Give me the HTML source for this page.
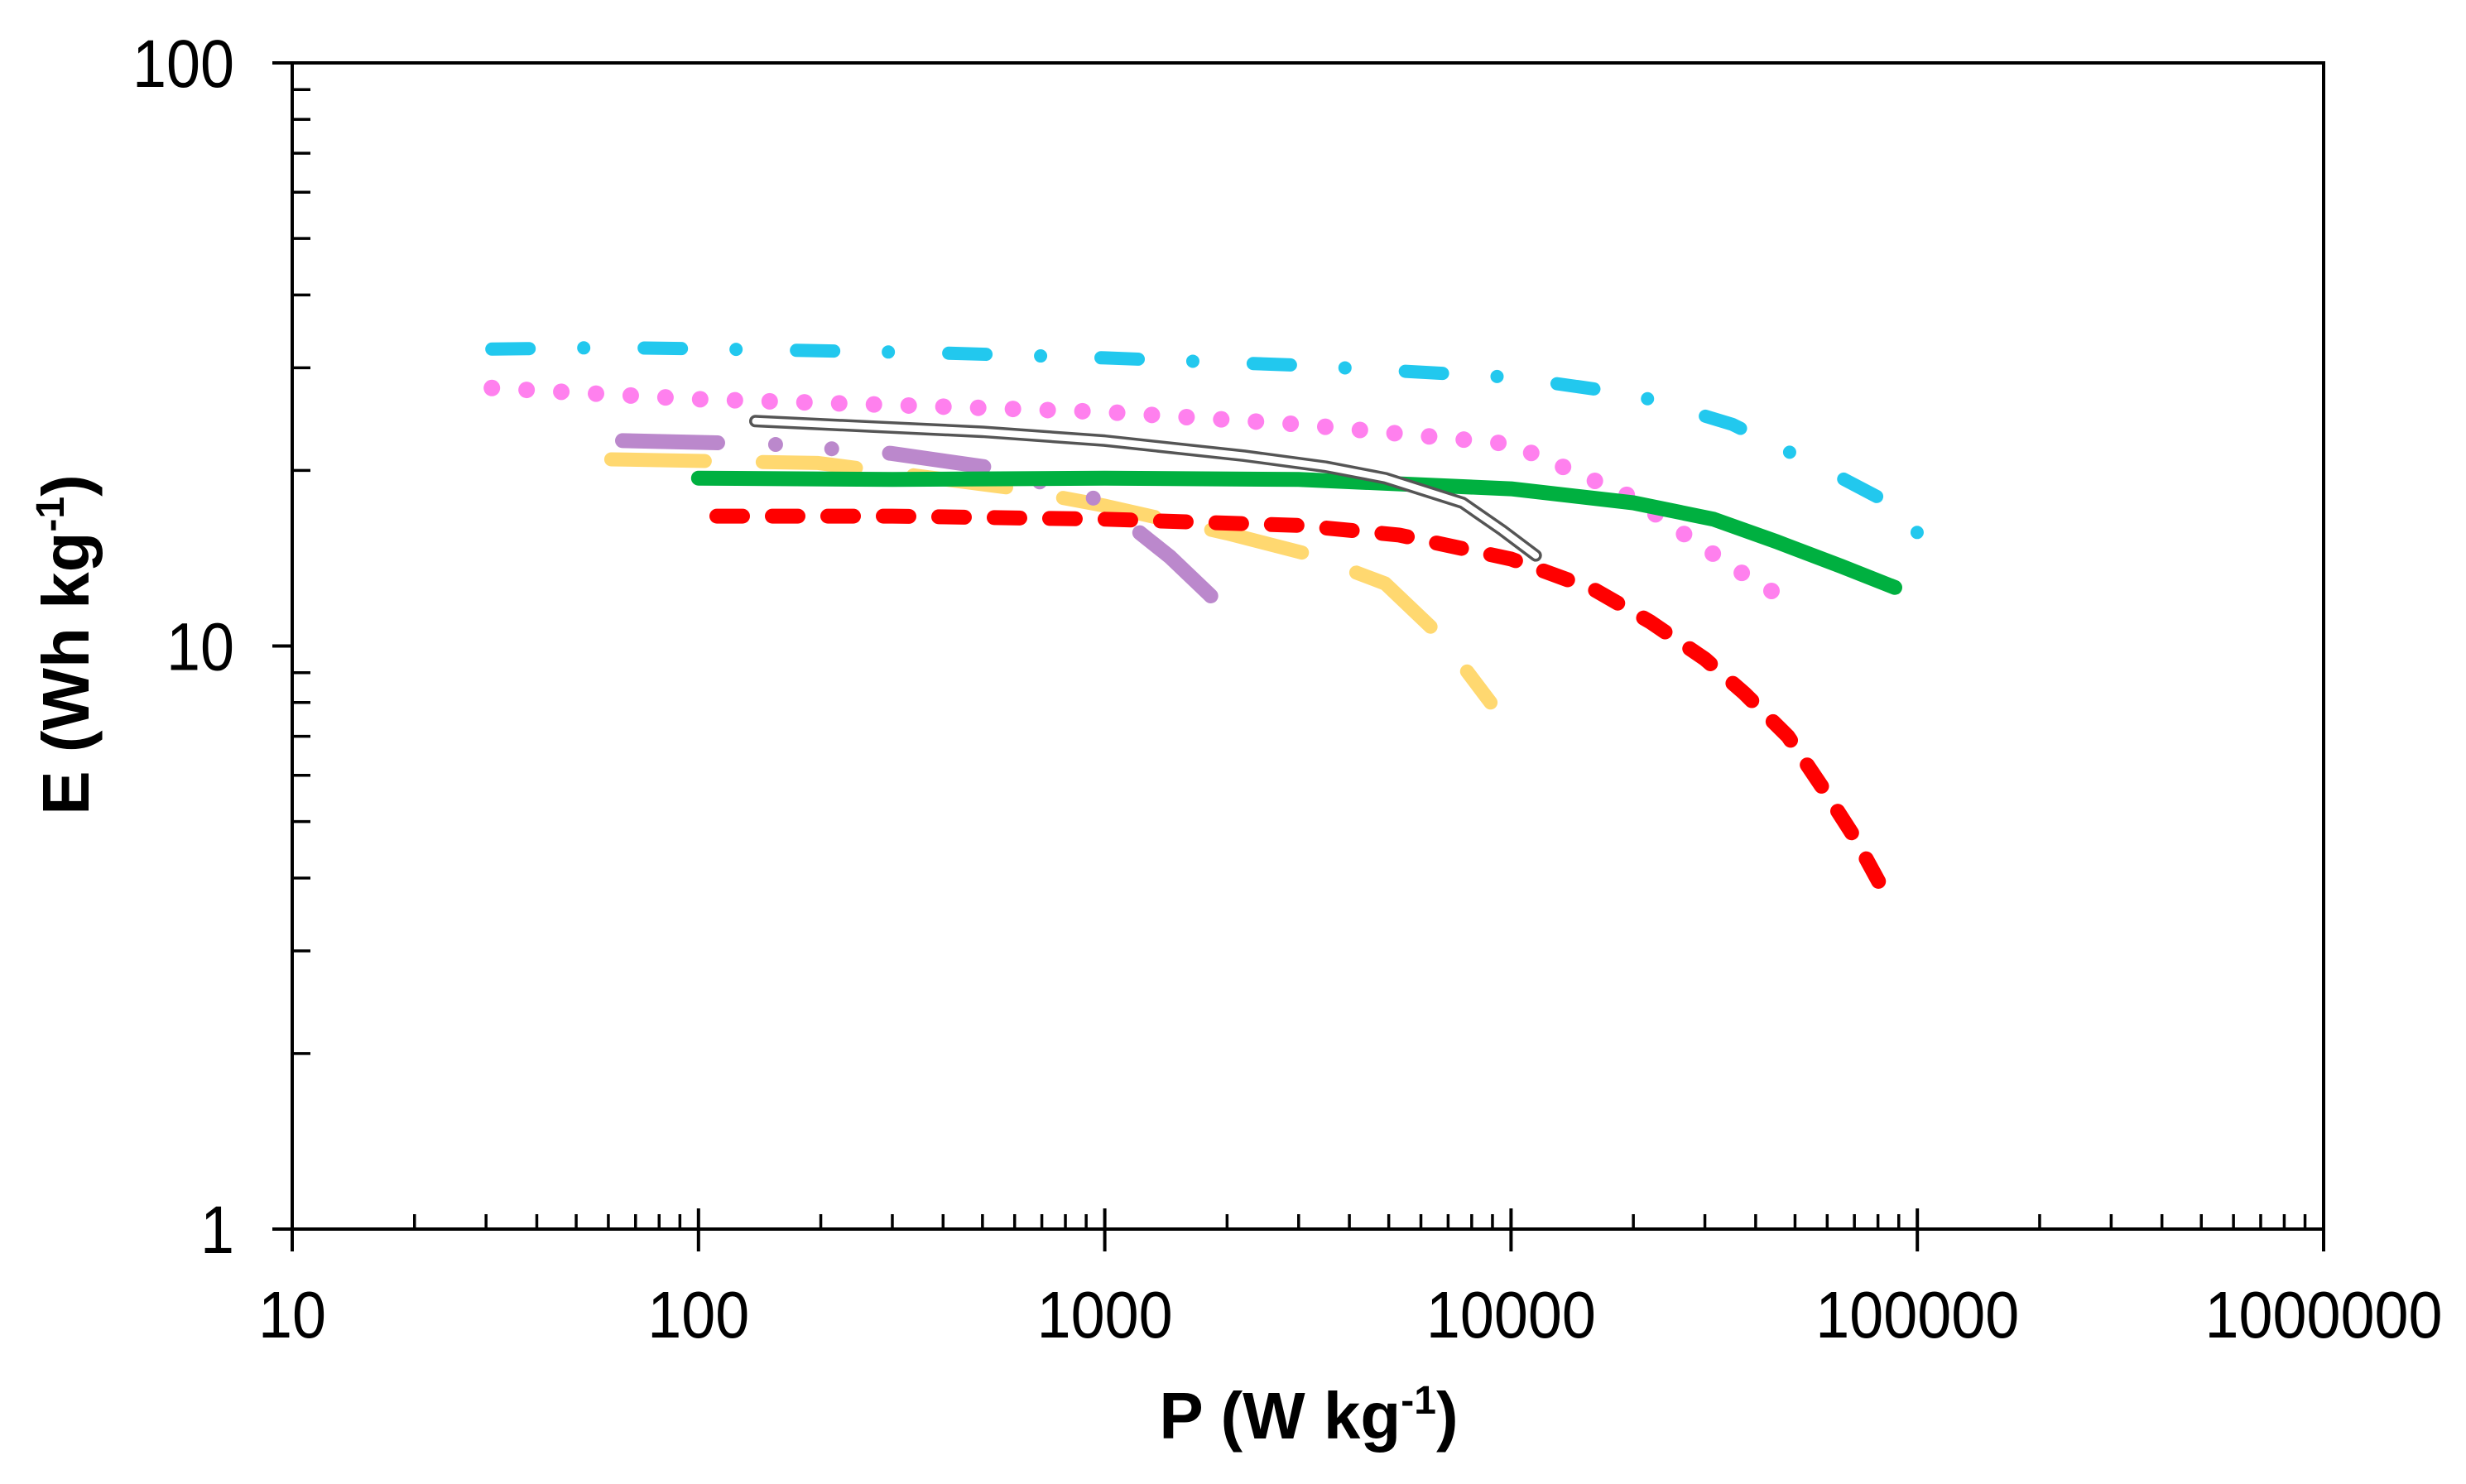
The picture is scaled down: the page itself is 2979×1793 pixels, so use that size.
<!DOCTYPE html>
<html><head><meta charset="utf-8"><style>
html,body{margin:0;padding:0;background:#fff;}
svg{display:block;}
text{font-family:"Liberation Sans",sans-serif;fill:#000;}
</style></head><body>
<svg id="chart" width="2979" height="1793" viewBox="0 0 2979 1793" xmlns="http://www.w3.org/2000/svg">
<g id="axes"></g>
<g id="series"></g>
<text x="1581" y="1738" font-size="80" font-weight="bold" text-anchor="middle">P (W kg<tspan font-size="48" dy="-30">-1</tspan><tspan dy="30">)</tspan></text>
<text transform="translate(107,779) rotate(-90)" font-size="80" font-weight="bold" text-anchor="middle">E (Wh kg<tspan font-size="48" dy="-30">-1</tspan><tspan dy="30">)</tspan></text>
</svg>
<script>
const xTicks=[10,100,1000,10000,100000,1000000];
const xTickLabels=["10","100","1000","10000","100000","1000000"];
const yTicks=[1,10,100];
const yTickLabels=["1","10","100"];

const cyanP=[31,60,150,400,1000,3000,10000,20000,35000,60000,85000,105000];
const cyanE=[32.3,32.5,32.2,31.8,31.2,30.3,28.9,27,24,20,17.6,15.1];
const pinkP=[31,100,300,1000,3000,10000,19500,27600,36000,44000];
const pinkE=[27.7,26.5,25.9,25.2,24,22.2,18.1,15.3,13.5,12.4];
const greyP=[138,500,1000,2200,3500,4900,7600,9500,11500];
const greyE=[24.3,23.3,22.5,21.2,20.3,19.4,17.6,15.8,14.3];
const greenP=[100,300,1000,3000,10000,20000,31500,45000,65000,88000];
const greenE=[19.4,19.3,19.4,19.3,18.6,17.6,16.5,15.1,13.7,12.6];
const redP=[111,300,1000,3000,5300,10000,16000,22000,30000,37500,48000,58000,70000,81000];
const redE=[16.7,16.7,16.5,16.1,15.5,14.1,12.5,11.0,9.5,8.3,7.0,5.76,4.7,3.9];
const yellowP=[61,197,576,1000,2000,3130,4900,6700,8900];
const yellowE=[20.9,20.6,18.7,17.4,15.6,14.4,12.8,10.4,8.0];
const purpleP=[65,150,297,505,920,1170,1450,1800,2230];
const purpleE=[22.5,22.2,21.4,20.3,18.1,16.0,14.2,12.3,10.6];

const NS="http://www.w3.org/2000/svg";
const L=353,R=2807,T=76,B=1485;
function X(p){return L+(R-L)/5*Math.log10(p/10);}
function Y(e){return B-(B-T)/2*Math.log10(e);}
function mk(tag,attrs,parent){const el=document.createElementNS(NS,tag);for(const k in attrs)el.setAttribute(k,attrs[k]);parent.appendChild(el);return el;}

const axes=document.getElementById('axes');
let frame=mk('rect',{x:L,y:T,width:R-L,height:B-T,fill:'none',stroke:'#000','stroke-width':4},axes);


xTicks.forEach((v,i)=>{
  const x=X(v);
  let t=mk('line',{x1:x,x2:x,y1:B-25,y2:B+27,stroke:'#000','stroke-width':4},axes);
  
  
  const s=xTickLabels[i];
  let lb=mk('text',{x:x,y:1616,'font-size':80,'text-anchor':'middle',textLength:s.length*41,lengthAdjust:'spacingAndGlyphs'},axes);
  lb.textContent=s;
  
  
  if(i<xTicks.length-1){for(let m=2;m<=9;m++){const xm=X(v*m);
    let mt=mk('line',{x1:xm,x2:xm,y1:B-18,y2:B,stroke:'#000','stroke-width':3.5},axes);
    
    }}
});
yTicks.forEach((v,i)=>{
  const y=Y(v);
  let t=mk('line',{x1:L-24,x2:L+2,y1:y,y2:y,stroke:'#000','stroke-width':4},axes);
  
  
  const s=yTickLabels[i];
  let lb=mk('text',{x:283,y:y+29,'font-size':82,'text-anchor':'end',textLength:s.length*41,lengthAdjust:'spacingAndGlyphs'},axes);
  lb.textContent=s;
  
  
  if(i<yTicks.length-1){for(let m=2;m<=9;m++){const ym=Y(v*m);
    let mt=mk('line',{x1:L,x2:L+22,y1:ym,y2:ym,stroke:'#000','stroke-width':3.5},axes);
    
    }}
});

const sg=document.getElementById('series');
function pts(P,E){return P.map((p,i)=>X(p).toFixed(1)+','+Y(E[i]).toFixed(1)).join(' ');}
function line(P,E,attrs,name){
  const el=mk('polyline',Object.assign({points:pts(P,E),fill:'none','stroke-linecap':'round','stroke-linejoin':'round'},attrs),sg);
  
  
  return el;
}
line(cyanP,cyanE,{stroke:'#22c8ee','stroke-width':16,'stroke-dasharray':'45 66 0 73'},'series-cyan-dash-dot');
line(pinkP,pinkE,{stroke:'#ff80ee','stroke-width':20,'stroke-dasharray':'0 42'},'series-pink-dotted');
line(yellowP,yellowE,{stroke:'#ffd870','stroke-width':17,'stroke-dasharray':'113 70'},'series-yellow-dashed');
line(purpleP,purpleE,{stroke:'#bb88cc','stroke-width':18,'stroke-dasharray':'115 70 0 68 0 70'},'series-purple-dash-dot-dot');
line(greenP,greenE,{stroke:'#00b040','stroke-width':18},'series-green-solid');
line(redP,redE,{stroke:'#ff0000','stroke-width':18,'stroke-dasharray':'31 36'},'series-red-dashed');
line(greyP,greyE,{stroke:'#555','stroke-width':15},'series-grey-outline');
line(greyP,greyE,{stroke:'#fff','stroke-width':8},'series-grey-inner');
</script>
</body></html>
